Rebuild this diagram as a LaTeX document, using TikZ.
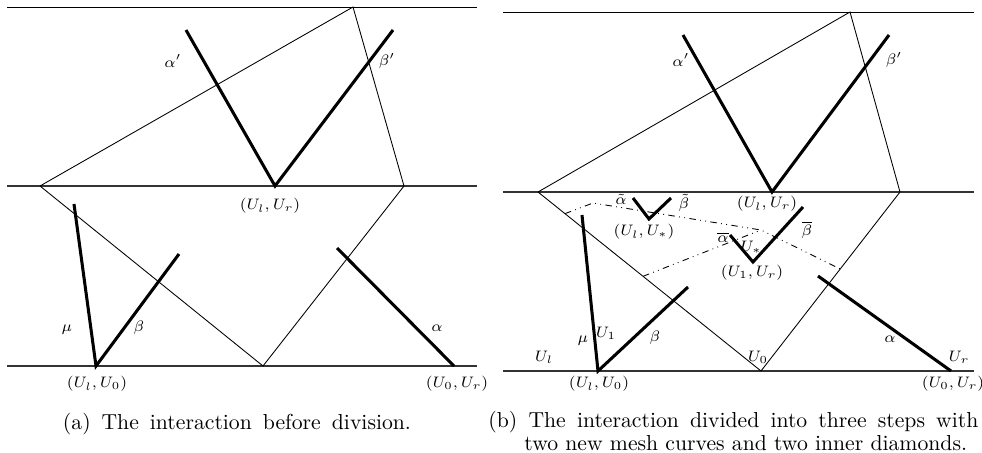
\documentclass[tikz,border=0pt]{standalone}
\usepackage{amsmath}
\usepackage{amssymb}
\usepackage{tikz}
\usetikzlibrary{positioning, calc}

\begin{document}
\begin{tikzpicture}[
    x=0.0162cm, y=-0.0162cm,
    level/.style={line width=0.8pt, draw=black!80},
    mesh/.style={line width=0.4pt},
    wave/.style={line width=1.4pt},
    newmesh/.style={line width=0.4pt, dash dot dot},
    wavelabel/.style={font=\scriptsize, inner sep=1pt},
    caption/.style={font=\fontsize{10}{9.2}\selectfont, inner sep=0pt, align=left}
]
\useasboundingbox (0,0) rectangle (982,453);

%=== PANEL (a): interaction before division ===
\begin{scope}
    \coordinate (TL) at (7,7);     \coordinate (TR) at (477,7);
    \coordinate (ML) at (7,186);   \coordinate (MR) at (477,186);
    \coordinate (BL) at (7,366);   \coordinate (BR) at (477,366);
    \coordinate (P) at (353,7);    % top corner
    \coordinate (L) at (40,186);   % left corner
    \coordinate (R) at (404,186);  % right corner
    \coordinate (B) at (263,366);  % bottom corner

    % time levels
    \draw[mesh, draw=black] (TL) -- (TR);
    \draw[level] (ML) -- (MR);
    \draw[level] (BL) -- (BR);

    % mesh curves
    \draw[mesh] (L) -- (P) -- (R);
    \draw[mesh] (L) -- (B) -- (R);

    % outgoing waves
    \coordinate (AlphaP) at (186,30);
    \coordinate (UlUr)   at (275,186);
    \coordinate (BetaP)  at (393,30);
    \draw[wave] (AlphaP) -- (UlUr) -- (BetaP);

    % incoming waves
    \coordinate (Mu)   at (74,204);
    \coordinate (UlU0) at (96,366);
    \coordinate (Beta) at (179,254);
    \draw[wave] (Mu) -- (UlU0) -- (Beta);
    \coordinate (Alpha) at (337,248);
    \coordinate (U0Ur)  at (454,366);
    \draw[wave] (Alpha) -- (U0Ur);

    \node[wavelabel] (lAlphaP) at (173,61)  {$\alpha'$};
    \node[wavelabel] (lBetaP)  at (387,61)  {$\beta'$};
    \node[wavelabel] (lUlUr)   at (270,206) {$(U_l,U_r)$};
    \node[wavelabel] (lMu)     at (67,330)  {$\mu$};
    \node[wavelabel] (lBeta)   at (139,328) {$\beta$};
    \node[wavelabel] (lAlpha)  at (437,328) {$\alpha$};
    \node[wavelabel] (lUlU0)   at (97,384)  {$(U_l,U_0)$};
    \node[wavelabel] (lU0Ur)   at (457,384) {$(U_0,U_r)$};

    \node[caption, anchor=base] (capA) at (237,429)
        {\makebox[5.64cm][s]{(a)\enspace The interaction before division.}};
\end{scope}

%=== PANEL (b): interaction divided into three steps ===
\begin{scope}[shift={(491,0)}]
    \coordinate (TL2) at (12,12);    \coordinate (TR2) at (483,12);
    \coordinate (ML2) at (12,192);   \coordinate (MR2) at (483,192);
    \coordinate (BL2) at (12,371);   \coordinate (BR2) at (483,371);
    \coordinate (P2) at (359,12);
    \coordinate (L2) at (47,192);
    \coordinate (R2) at (409,192);
    \coordinate (B2) at (270,371);

    \draw[mesh, draw=black] (TL2) -- (TR2);
    \draw[level] (ML2) -- (MR2);
    \draw[level] (BL2) -- (BR2);

    \draw[mesh] (L2) -- (P2) -- (R2);
    \draw[mesh] (L2) -- (B2) -- (R2);

    % new mesh curves
    \coordinate (M1) at ($(L2)!0.121!(B2)$);
    \coordinate (K1) at (102,203);
    \coordinate (J)  at (270,230);
    \coordinate (M2) at ($(L2)!0.471!(B2)$);
    \coordinate (M3) at ($(B2)!0.57!(R2)$);
    \draw[newmesh] (M1) -- (K1) -- (J) -- (M3);
    \draw[newmesh] (M2) -- (J);

    \coordinate (AlphaP2) at (192,35);
    \coordinate (UlUr2)   at (281,192);
    \coordinate (BetaP2)  at (398,35);
    \draw[wave] (AlphaP2) -- (UlUr2) -- (BetaP2);

    \coordinate (Mu2)   at (91,215);
    \coordinate (UlU02) at (107,371);
    \coordinate (Beta2) at (197,287);
    \draw[wave] (Mu2) -- (UlU02) -- (Beta2);
    \coordinate (Alpha2) at (327,276);
    \coordinate (U0Ur2)  at (460,371);
    \draw[wave] (Alpha2) -- (U0Ur2);

    % inner diamonds
    \coordinate (TA) at (142,198);
    \coordinate (TV) at (158,219);
    \coordinate (TB) at (180,198);
    \draw[wave] (TA) -- (TV) -- (TB);
    \coordinate (BA) at (239,235);
    \coordinate (BV) at (262,262);
    \coordinate (BB) at (312,207);
    \draw[wave] (BA) -- (BV) -- (BB);

    \node[wavelabel] (lAlphaP2) at (190,60)  {$\alpha'$};
    \node[wavelabel] (lBetaP2)  at (403,60)  {$\beta'$};
    \node[wavelabel] (lUlUr2)   at (276,204) {$(U_l,U_r)$};
    \node[wavelabel] (lTA)      at (130,199) {$\tilde{\alpha}$};
    \node[wavelabel] (lTB)      at (193,203) {$\tilde{\beta}$};
    \node[wavelabel] (lUlUs)    at (153,232) {$(U_l,U_*)$};
    \node[wavelabel] (lBA)      at (232,237) {$\overline{\alpha}$};
    \node[wavelabel] (lBB)      at (316,230) {$\overline{\beta}$};
    \node[wavelabel] (lUs)      at (260,247) {$U_*$};
    \node[wavelabel] (lU1Ur)    at (261,273) {$(U_1,U_r)$};
    \node[wavelabel] (lMu2)     at (92,341)  {$\mu$};
    \node[wavelabel] (lU1)      at (115,333) {$U_1$};
    \node[wavelabel] (lBeta2)   at (164,338) {$\beta$};
    \node[wavelabel] (lUl)      at (53,357)  {$U_l$};
    \node[wavelabel] (lU0)      at (267,357) {$U_0$};
    \node[wavelabel] (lAlpha2)  at (399,339) {$\alpha$};
    \node[wavelabel] (lUr)      at (468,357) {$U_r$};
    \node[wavelabel] (lUlU02)   at (108,384) {$(U_l,U_0)$};
    \node[wavelabel] (lU0Ur2)   at (462,384) {$(U_0,U_r)$};

    \node[caption, anchor=north west] (capB) at (-3,411)
        {\makebox[7.94cm][s]{(b) The interaction divided into three steps with}\\
         \hspace*{16.6pt}two new mesh curves and two inner diamonds.};
\end{scope}

\end{tikzpicture}
\end{document}
